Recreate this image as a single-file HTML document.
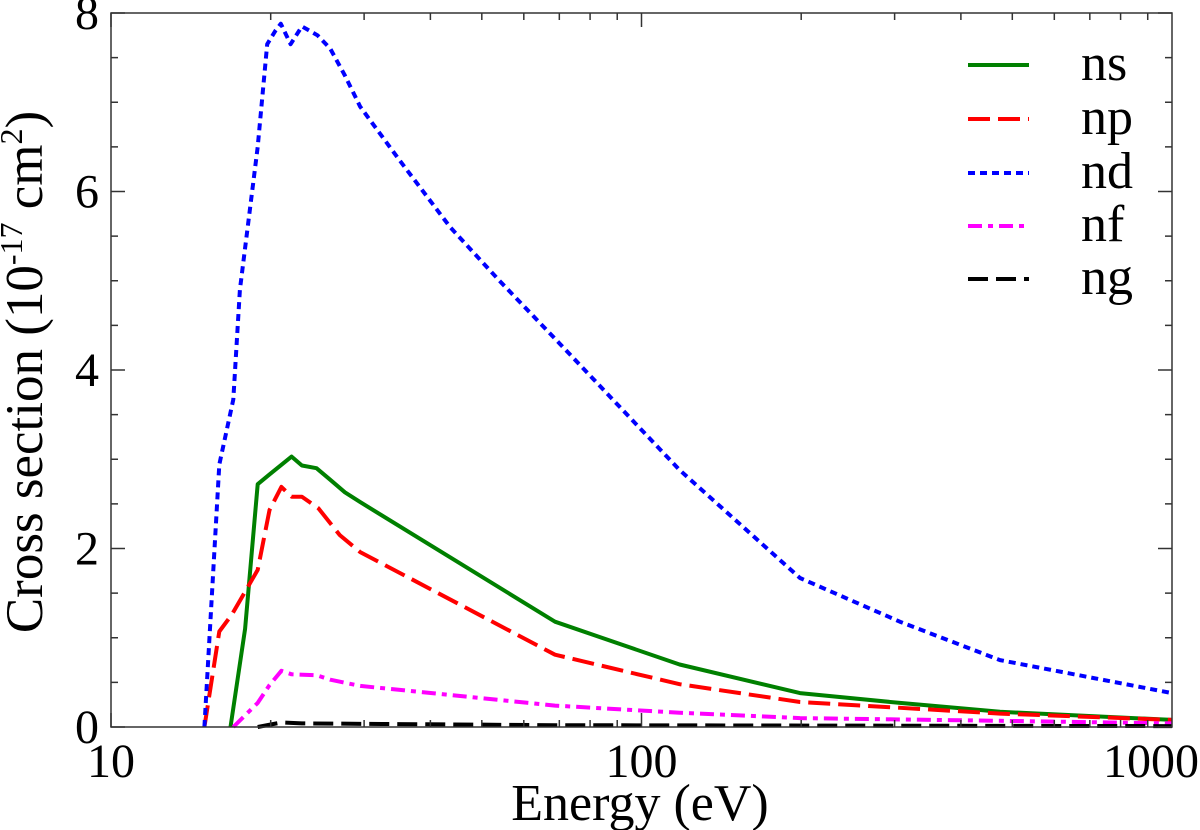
<!DOCTYPE html>
<html><head><meta charset="utf-8"><style>
body{margin:0;background:#fff}
svg{display:block;font-family:"Liberation Serif","DejaVu Serif",serif}
</style></head><body>
<svg id="chart" width="1200" height="830" viewBox="0 0 1200 830">
<g id="marks"></g>
<g id="axes"></g>
<g id="legend"></g>
<text x="640" y="820" font-size="52" text-anchor="middle">Energy (eV)</text>
<text transform="translate(42,372) rotate(-90)" font-size="53" text-anchor="middle">Cross section (10<tspan font-size="32" dy="-20">-17</tspan><tspan dy="20"> cm</tspan><tspan font-size="32" dy="-20">2</tspan><tspan dy="20">)</tspan></text>
</svg>
<script>
const xTickValues=[10,100,1000];
const xTickLabels=["10","100","1000"];
const yTickValues=[0,2,4,6,8];
const yTickLabels=["0","2","4","6","8"];
const seriesNames=["ns","np","nd","nf","ng"];
const nsE=[16.8,17.9,18.9,19.9,21.9,22.9,24.4,25.9,27.6,29.5,68.7,118,199,307,474,1000];
const nsV=[0,1.1,2.72,2.83,3.03,2.93,2.9,2.77,2.63,2.52,1.18,0.7,0.38,0.27,0.17,0.08];
const npE=[15,16,16.9,18.9,19.9,20.95,21.9,22.9,24.6,27,29.5,68.7,118,199,474,1000];
const npV=[0,1.07,1.26,1.76,2.43,2.69,2.58,2.58,2.45,2.15,1.96,0.81,0.48,0.28,0.15,0.08];
const ndE=[15,16,17,17.5,18.9,19.7,20.4,20.9,21.8,22.9,24.5,25.9,27.6,29.5,35,43.6,54,70,118,199,307,474,1000];
const ndV=[0,2.94,3.67,4.9,6.5,7.65,7.8,7.88,7.65,7.85,7.75,7.6,7.3,6.95,6.35,5.6,5.0,4.3,2.88,1.67,1.18,0.75,0.38];
const nfE=[17,18.9,19.9,20.95,21.9,24.4,25.9,29.5,68.7,118,199,474,1000];
const nfV=[0,0.27,0.47,0.63,0.59,0.58,0.53,0.46,0.24,0.16,0.1,0.07,0.04];
const ngE=[18.9,20.95,22.9,68.7,1000];
const ngV=[0,0.05,0.04,0.02,0.01];

const L=111,R=1172,T=13,B=727;
const xs=e=>L+(R-L)*Math.log10(e/10)/2;
const ys=v=>B-(B-T)*v/8;
const NS="http://www.w3.org/2000/svg";
function mk(tag,attrs,parent){const el=document.createElementNS(NS,tag);for(const k in attrs)el.setAttribute(k,attrs[k]);parent.appendChild(el);return el;}
const marks=document.getElementById('marks'),axes=document.getElementById('axes'),legend=document.getElementById('legend');
const styles=[
 {c:"#008000",d:"none"},
 {c:"#ff0000",d:"22 8"},
 {c:"#0000ff",d:"7 5"},
 {c:"#ff00ff",d:"14 6 5 6"},
 {c:"#000000",d:"20 8"}];
const data=[[nsE,nsV],[npE,npV],[ndE,ndV],[nfE,nfV],[ngE,ngV]];
data.forEach((s,i)=>{
 const d=s[0].map((e,j)=>(j?"L":"M")+xs(e).toFixed(1)+","+ys(s[1][j]).toFixed(1)).join("");
 const p=mk('path',{d:d,fill:"none",stroke:styles[i].c,"stroke-width":4,"stroke-dasharray":styles[i].d,"stroke-linejoin":"round"},marks);
 
 
});
const frame=mk('rect',{x:L,y:T,width:R-L,height:B-T,fill:"none",stroke:"#333","stroke-width":1.5},axes);


for(let dec=10;dec<1000;dec*=10){for(let m=1;m<10;m++){const e=dec*m;const x=xs(e);const len=m===1?14:7;
 mk('line',{x1:x,y1:B,x2:x,y2:B-len,stroke:"#333","stroke-width":1.5},axes);
 mk('line',{x1:x,y1:T,x2:x,y2:T+len,stroke:"#333","stroke-width":1.5},axes);}}
xTickValues.forEach((v,i)=>{const last=i===xTickValues.length-1;
 const t=mk('text',{x:last?1199:xs(v),y:777,"font-size":48,"text-anchor":last?"end":"middle",fill:"#000"},axes);t.textContent=xTickLabels[i];
 
 });
for(let v=0;v<=8;v+=0.5){const y=ys(v);const len=(v%2===0)?14:7;
 mk('line',{x1:L,y1:y,x2:L+len,y2:y,stroke:"#333","stroke-width":1.5},axes);
 mk('line',{x1:R,y1:y,x2:R-len,y2:y,stroke:"#333","stroke-width":1.5},axes);}
yTickValues.forEach((v,i)=>{const t=mk('text',{x:99,y:ys(v)+16,"font-size":48,"text-anchor":"end",fill:"#000"},axes);t.textContent=yTickLabels[i];
 
 });
seriesNames.forEach((n,i)=>{const y=[65,119,173,226,279][i];
 const g=mk('g',{},legend);
 
 
 mk('line',{x1:968,y1:y,x2:1029,y2:y,stroke:styles[i].c,"stroke-width":4,"stroke-dasharray":styles[i].d},g);
 const t=mk('text',{x:1081,y:y+15,"font-size":52,fill:"#000"},g);t.textContent=n;});
</script>
</body></html>
